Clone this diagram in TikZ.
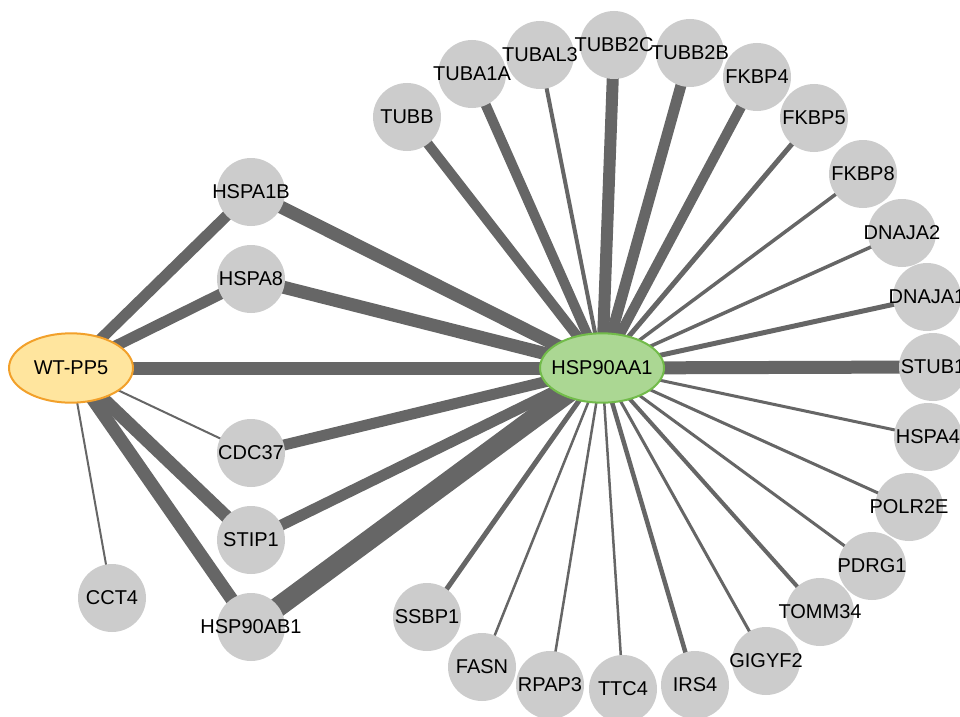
\documentclass[tikz,border=0pt]{standalone}
\usepackage{fontspec}
\setmainfont{Liberation Sans}
\usetikzlibrary{shapes.geometric}
\pgfdeclarelayer{background}
\pgfsetlayers{background,main}
\definecolor{edgegray}{HTML}{666666}
\definecolor{nodegray}{HTML}{CCCCCC}
\definecolor{wtfill}{HTML}{FFE59E}
\definecolor{wtline}{HTML}{F2A02A}
\definecolor{aafill}{HTML}{ABD793}
\definecolor{aaline}{HTML}{72BB4A}
\newcommand\pname[1]{\makebox[0pt]{#1}}
\begin{document}
\begin{tikzpicture}[x=0.75pt,y=-0.75pt,
  prot/.style={circle,fill=nodegray,draw=none,minimum size=51pt,inner sep=0pt,
    font=\fontsize{15}{17}\selectfont},
  hub/.style={ellipse,minimum width=93pt,minimum height=52pt,inner sep=0pt,
    line width=1.5pt,font=\fontsize{15}{17}\selectfont},
  edge/.style={draw=edgegray,line cap=butt}]
\useasboundingbox (0,0) rectangle (960,717);
\clip (0,0) rectangle (960,717);
\node[hub,fill=wtfill,draw=wtline] (wt) at (71,368) {\pname{WT-PP5}};
\node[hub,fill=aafill,draw=aaline] (aa) at (602,368) {\pname{HSP90AA1}};
\node[prot] (HSPA1B) at (251,192) {\pname{HSPA1B}};
\node[prot] (HSPA8) at (251,279) {\pname{HSPA8}};
\node[prot] (CDC37) at (251,453) {\pname{CDC37}};
\node[prot] (STIP1) at (251,540) {\pname{STIP1}};
\node[prot] (HSP90AB1) at (251,627) {\pname{HSP90AB1}};
\node[prot] (CCT4) at (112,598) {\pname{CCT4}};
\node[prot] (TUBB) at (407,117) {\pname{TUBB}};
\node[prot] (TUBA1A) at (472,74) {\pname{TUBA1A}};
\node[prot] (TUBAL3) at (540,55) {\pname{TUBAL3}};
\node[prot] (TUBB2C) at (614,45) {\pname{TUBB2C}};
\node[prot] (TUBB2B) at (690,53) {\pname{TUBB2B}};
\node[prot] (FKBP4) at (757,77) {\pname{FKBP4}};
\node[prot] (FKBP5) at (814,118) {\pname{FKBP5}};
\node[prot] (FKBP8) at (863,174) {\pname{FKBP8}};
\node[prot] (DNAJA2) at (902,233) {\pname{DNAJA2}};
\node[prot] (DNAJA1) at (927,297) {\pname{DNAJA1}};
\node[prot] (STUB1) at (933,367) {\pname{STUB1}};
\node[prot] (HSPA4) at (928,437) {\pname{HSPA4}};
\node[prot] (POLR2E) at (909,507) {\pname{POLR2E}};
\node[prot] (PDRG1) at (872,566) {\pname{PDRG1}};
\node[prot] (TOMM34) at (820,612) {\pname{TOMM34}};
\node[prot] (GIGYF2) at (766,661) {\pname{GIGYF2}};
\node[prot] (IRS4) at (695,685) {\pname{IRS4}};
\node[prot] (TTC4) at (623,689) {\pname{TTC4}};
\node[prot] (RPAP3) at (550,685) {\pname{RPAP3}};
\node[prot] (FASN) at (482,667) {\pname{FASN}};
\node[prot] (SSBP1) at (427,617) {\pname{SSBP1}};
\begin{pgfonlayer}{background}
\foreach \n/\w in {HSPA1B/11,HSPA8/11,aa/13,CDC37/2,STIP1/13,HSP90AB1/13,CCT4/2}
  \draw[edge,line width=0.75pt*\w] (wt.center) -- (\n.center);
\foreach \n/\w in {HSPA1B/13,HSPA8/13,CDC37/11,STIP1/11,HSP90AB1/20,TUBB/10,TUBA1A/10,
  TUBAL3/4,TUBB2C/12,TUBB2B/11,FKBP4/10,FKBP5/5,FKBP8/3.5,DNAJA2/3.5,DNAJA1/5,STUB1/13,
  HSPA4/3,POLR2E/3,PDRG1/3,TOMM34/4,GIGYF2/3,IRS4/4.5,TTC4/2.5,RPAP3/2.5,FASN/2.5,SSBP1/5}
  \draw[edge,line width=0.75pt*\w] (aa.center) -- (\n.center);
\end{pgfonlayer}
\end{tikzpicture}
\end{document}
